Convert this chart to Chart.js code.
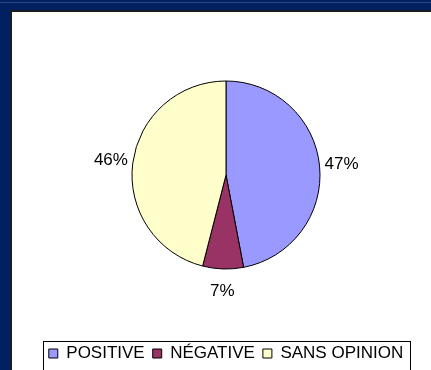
<!DOCTYPE html>
<html><head><meta charset="utf-8">
<script src="https://cdn.jsdelivr.net/npm/chart.js@4/dist/chart.umd.min.js"></script>
<style>
html,body{margin:0;padding:0;}
body{width:431px;height:370px;background:#00205f;position:relative;overflow:hidden;font-family:"Liberation Sans",Arial,sans-serif;}
#topline{position:absolute;left:0;top:2px;width:431px;height:1px;background:#2e4782;}
#panel{position:absolute;left:10px;top:10px;width:421px;height:360px;background:#fff;border-left:2px solid #1c1c1c;border-top:2px solid #1c1c1c;box-sizing:border-box;}
#wrap{position:absolute;left:12px;top:12px;width:419px;height:358px;}
</style></head>
<body>
<div id="topline"></div>
<div id="panel"></div>
<div id="wrap"><canvas id="c" width="419" height="358"></canvas></div>
<script>
const categories = ["POSITIVE", "NÉGATIVE", "SANS OPINION"];
const values = [47, 7, 46];
const pctLabels = ["47%", "7%", "46%"];
const colors = ["#9999ff", "#993366", "#ffffcc"];

const labelPlugin = {
  id: 'pctLabels',
  afterDatasetsDraw(chart) {
    const ctx = chart.ctx;
    const meta = chart.getDatasetMeta(0);
    ctx.save();
    ctx.font = '17px "Liberation Sans", Arial, sans-serif';
    ctx.fillStyle = '#000';
    ctx.textAlign = 'center';
    ctx.textBaseline = 'middle';
    meta.data.forEach((arc, i) => {
      const p = arc.getProps(['x','y','startAngle','endAngle','outerRadius'], true);
      const a = (p.startAngle + p.endAngle) / 2;
      const d = p.outerRadius + 22;
      ctx.fillText(pctLabels[i], p.x + Math.cos(a) * d, p.y + Math.sin(a) * d);
    });
    ctx.restore();
  }
};

const legendBox = {
  id: 'legendBox',
  afterDraw(chart) {
    const lg = chart.legend;
    if (!lg || !lg.legendHitBoxes || !lg.legendHitBoxes.length) return;
    const hb = lg.legendHitBoxes;
    let minX = Infinity, maxX = -Infinity, minY = Infinity;
    hb.forEach(h => { minX = Math.min(minX, h.left); maxX = Math.max(maxX, h.left + h.width); minY = Math.min(minY, h.top); });
    const ctx = chart.ctx;
    ctx.save();
    ctx.strokeStyle = '#000';
    ctx.lineWidth = 1;
    ctx.strokeRect(Math.round(minX - 6) + 0.5, Math.round(minY - 4) + 0.5, Math.round(maxX - minX + 13), 60);
    ctx.restore();
  }
};

new Chart(document.getElementById('c'), {
  type: 'pie',
  data: {
    labels: categories,
    datasets: [{
      data: values,
      backgroundColor: colors,
      borderColor: '#000',
      borderWidth: 1,
      radius: 94
    }]
  },
  options: {
    responsive: false,
    animation: false,
    layout: { padding: { left: 9, right: 0, top: 1, bottom: -2 } },
    plugins: {
      tooltip: { enabled: false },
      legend: {
        position: 'bottom',
        labels: {
          boxWidth: 9,
          boxHeight: 9,
          padding: 8,
          color: '#000',
          font: { size: 17, family: '"Liberation Sans", Arial, sans-serif' },
          generateLabels(chart) {
            return categories.map((c, i) => ({
              text: c, fillStyle: colors[i], strokeStyle: '#000', lineWidth: 1, hidden: false, index: i
            }));
          }
        }
      }
    }
  },
  plugins: [labelPlugin, legendBox]
});
</script>
</body></html>
